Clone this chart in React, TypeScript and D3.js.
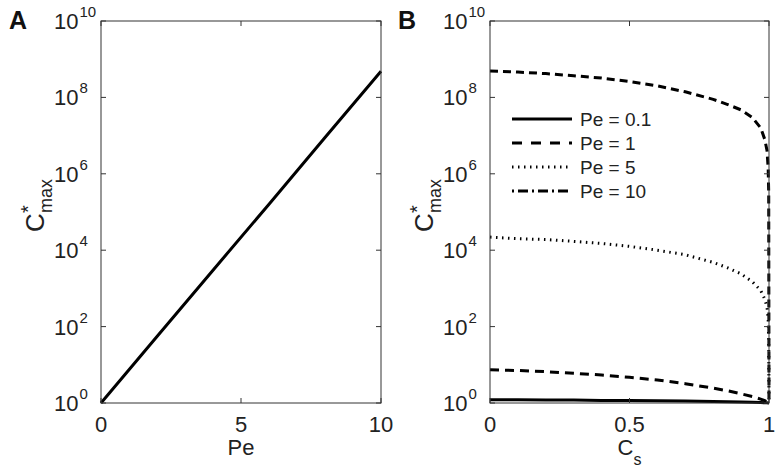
import React, { useEffect, useRef } from 'react';
import * as d3 from 'd3';

// Panel A: C*max against Pe (straight line on a log axis)
const peA = [0, 2, 4, 6, 8, 10];
const cmaxA = [1, 55, 3.0e3, 1.6e5, 8.9e6, 4.85e8];

// Panel B: C*max against Cs for four Pe values
const csB = [0, 0.1, 0.2, 0.3, 0.4, 0.5, 0.6, 0.7, 0.8, 0.85, 0.9, 0.94, 0.97, 0.985, 0.993, 0.997, 0.999, 1];
const cmaxPe01 = [1.22, 1.21, 1.2, 1.19, 1.17, 1.16, 1.14, 1.12, 1.09, 1.075, 1.06, 1.04, 1.025, 1.015, 1.008, 1.004, 1.001, 1];
const cmaxPe1 = [7.4, 7.1, 6.6, 6.0, 5.4, 4.7, 4.0, 3.2, 2.45, 2.1, 1.74, 1.48, 1.26, 1.15, 1.07, 1.035, 1.01, 1];
const cmaxPe5 = [2.2e4, 2.0e4, 1.9e4, 1.7e4, 1.5e4, 1.26e4, 1.0e4, 7.6e3, 4.8e3, 3.5e3, 2.4e3, 1.5e3, 890, 520, 320, 160, 50, 1];
const cmaxPe10 = [4.9e8, 4.6e8, 4.2e8, 3.7e8, 3.2e8, 2.6e8, 2.0e8, 1.4e8, 8.9e7, 6.6e7, 4.7e7, 3.0e7, 1.6e7, 7.9e6, 4.0e6, 1.4e6, 3.2e5, 1];

const legendLabels = ['Pe = 0.1', 'Pe = 1', 'Pe = 5', 'Pe = 10'];
const yTickExps = [0, 2, 4, 6, 8, 10];
const xTicksA = [0, 5, 10];
const xTicksB = [0, 0.5, 1];

const W = 784;
const H = 473;
const FONT = '"Liberation Sans", Arial, Helvetica, sans-serif';

const App = () => {
  const ref = useRef<SVGSVGElement>(null);

  useEffect(() => {
    const svg = d3.select(ref.current);
    svg.selectAll('*').remove();

    const top = 21;
    const bottom = 403;
    const y = d3.scaleLog().domain([1, 1e10]).range([bottom, top]);

    const drawAxes = (
      g: d3.Selection<SVGGElement, unknown, null, undefined>,
      x: d3.ScaleLinear<number, number>,
      xTicks: number[],
      xLabel: string,
      xSub: string,
      letter: string
    ) => {
      const [x0, x1] = x.range();
      const axisColor = '#333';

      // box
      g.append('rect')
        .attr('x', x0).attr('y', top)
        .attr('width', x1 - x0).attr('height', bottom - top)
        .attr('fill', 'none').attr('stroke', axisColor).attr('stroke-width', 1);

      // y ticks (inward, both sides) and labels
      yTickExps.forEach(e => {
        const yy = y(Math.pow(10, e));
        g.append('line').attr('x1', x0).attr('x2', x0 + 5).attr('y1', yy).attr('y2', yy).attr('stroke', axisColor);
        g.append('line').attr('x1', x1).attr('x2', x1 - 5).attr('y1', yy).attr('y2', yy).attr('stroke', axisColor);
        const t = g.append('text')
          .attr('x', x0 - 47).attr('y', yy + 8)
          .attr('text-anchor', 'start')
          .style('font-family', FONT).style('font-size', '22px').attr('fill', '#222');
        t.append('tspan').text('10');
        t.append('tspan').attr('dy', -12).attr('dx', 1).style('font-size', '15px').text(String(e));
      });

      // x ticks and labels
      xTicks.forEach(v => {
        const xx = x(v);
        g.append('line').attr('x1', xx).attr('x2', xx).attr('y1', bottom).attr('y2', bottom - 5).attr('stroke', axisColor);
        g.append('line').attr('x1', xx).attr('x2', xx).attr('y1', top).attr('y2', top + 5).attr('stroke', axisColor);
        g.append('text')
          .attr('x', xx).attr('y', bottom + 29)
          .attr('text-anchor', 'middle')
          .style('font-family', FONT).style('font-size', '22px').attr('fill', '#222')
          .text(String(v));
      });

      // x label
      const xl = g.append('text')
        .attr('x', (x0 + x1) / 2).attr('y', bottom + 52)
        .attr('text-anchor', 'middle')
        .style('font-family', FONT).style('font-size', '22px').attr('fill', '#222');
      xl.append('tspan').text(xLabel);
      if (xSub) xl.append('tspan').attr('dy', 10).style('font-size', '16px').text(xSub);

      // y label: C with stacked * and max
      const yl = g.append('g')
        .attr('transform', `translate(${x0 - 57},${(top + bottom) / 2}) rotate(-90)`)
        .style('font-family', FONT).attr('fill', '#222');
      yl.append('text').attr('x', -20).attr('y', 0).style('font-size', '26px').text('C');
      yl.append('text').attr('x', -1).attr('y', -9).style('font-size', '20px').text('*');
      yl.append('text').attr('x', -1).attr('y', 8).style('font-size', '18px').text('max');

      // panel letter
      g.append('text')
        .attr('x', x0 - 92).attr('y', 29)
        .style('font-family', FONT).style('font-size', '25px').style('font-weight', 'bold')
        .attr('fill', '#111')
        .text(letter);
    };

    // ---------- Panel A ----------
    const xA = d3.scaleLinear().domain([0, 10]).range([101, 381]);
    const gA = svg.append('g');
    const lineA = d3.line<number>()
      .x((_, i) => xA(peA[i]))
      .y(d => y(d));
    gA.append('path')
      .datum(cmaxA)
      .attr('fill', 'none')
      .attr('stroke', '#000')
      .attr('stroke-width', 3)
      .attr('d', lineA);
    drawAxes(gA, xA, xTicksA, 'Pe', '', 'A');

    // ---------- Panel B ----------
    const xB = d3.scaleLinear().domain([0, 1]).range([490, 769]);
    const gB = svg.append('g');
    const lineB = d3.line<number>()
      .x((_, i) => xB(csB[i]))
      .y(d => y(d));

    const series = [
      { data: cmaxPe01, dash: null, legendDash: null },
      { data: cmaxPe1, dash: '9,6', legendDash: '10,9' },
      { data: cmaxPe5, dash: '1.5,4.5', legendDash: '1.5,4.5' },
      { data: cmaxPe10, dash: '8,5', legendDash: '2,4,10,4' },
    ];

    series.forEach(s => {
      gB.append('path')
        .datum(s.data)
        .attr('fill', 'none')
        .attr('stroke', '#000')
        .attr('stroke-width', 3)
        .attr('stroke-dasharray', s.dash)
        .attr('d', lineB);
    });
    drawAxes(gB, xB, xTicksB, 'C', 's', 'B');

    // legend
    const leg = gB.append('g');
    legendLabels.forEach((lab, i) => {
      const ly = 119 + i * 24;
      leg.append('line')
        .attr('x1', 512).attr('x2', 572)
        .attr('y1', ly).attr('y2', ly)
        .attr('stroke', '#000').attr('stroke-width', 3)
        .attr('stroke-dasharray', series[i].legendDash);
      leg.append('text')
        .attr('x', 580).attr('y', ly + 7)
        .style('font-family', FONT).style('font-size', '19px').attr('fill', '#222')
        .text(lab);
    });
  }, []);

  return (
    <svg ref={ref} width={W} height={H} style={{ position: 'absolute', left: 0, top: 0, background: '#fff' }}></svg>
  );
};

export default App;
